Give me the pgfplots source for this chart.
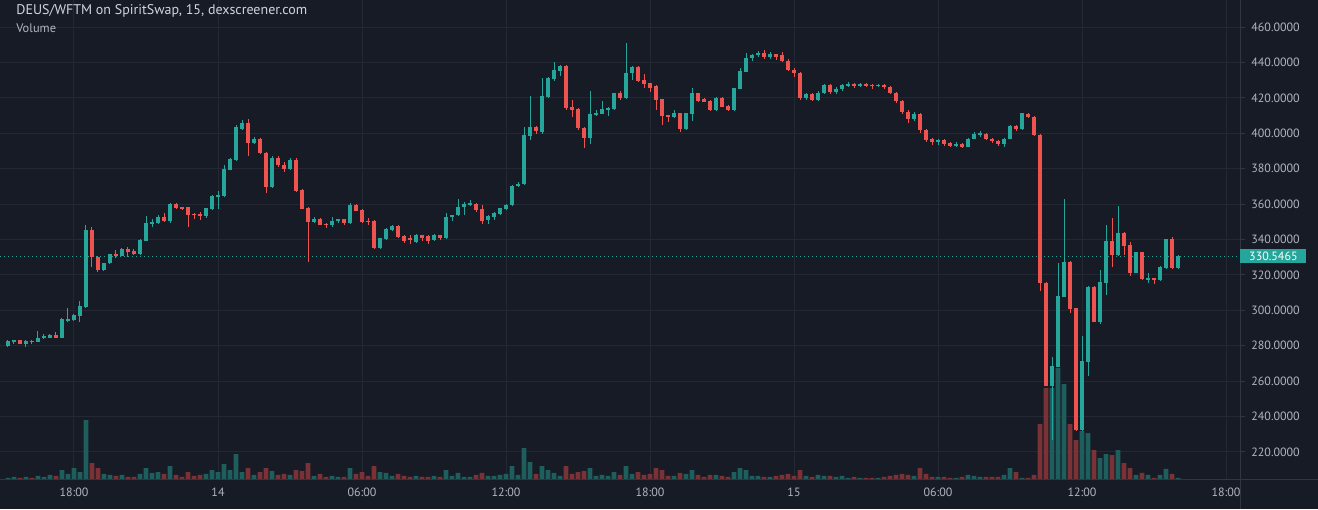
\documentclass[border=0pt]{standalone}
\usepackage{fontspec}
\setmainfont{PT Sans}
\usepackage{pgfplots}
\usepackage{pgfplotstable}
\pgfplotsset{compat=1.18}
\definecolor{bgcol}{RGB}{23,27,38}
\definecolor{gridcol}{RGB}{36,40,52}
\definecolor{sepcol}{RGB}{50,54,66}
\definecolor{txtcol}{RGB}{178,181,190}
\definecolor{titlecol}{RGB}{209,212,220}
\definecolor{upcol}{RGB}{38,166,154}
\definecolor{dncol}{RGB}{239,83,80}
\definecolor{volup}{RGB}{30,94,93}
\definecolor{voldn}{RGB}{122,50,54}

\pgfplotstableread{
i o h l c v
-11 280.0 283.0 279.5 282.7 2
-10 282.3 283.3 280.8 283.0 3
-9 283.0 283.3 280.8 281.2 2
-8 281.2 283.0 279.5 282.7 3
-7 282.7 283.0 280.8 282.3 2
-6 282.3 288.3 282.0 284.6 4
-5 284.2 286.8 284.0 285.3 3
-4 284.6 286.5 284.3 286.1 5
-3 286.1 287.6 284.3 284.6 4
-2 284.6 295.5 284.3 295.1 10
-1 294.3 301.1 293.2 295.1 6
0 294.7 298.0 294.0 297.4 12
1 297.0 305.3 293.6 302.6 8
2 302.0 348.2 301.5 345.4 60
3 345.4 347.1 324.6 330.3 17
4 330.3 330.8 321.4 322.8 12
5 322.8 327.0 322.0 326.5 6
6 326.5 332.0 326.0 331.6 5
7 332.0 334.1 329.4 330.9 4
8 330.9 335.0 330.5 334.4 5
9 334.6 335.5 330.3 332.7 3
10 333.7 334.5 331.0 331.8 3
11 331.8 340.0 331.5 339.7 6
12 339.3 353.3 339.0 349.5 12
13 348.8 351.8 347.2 350.1 7
14 349.5 353.8 349.0 352.9 8
15 352.9 354.8 350.0 350.6 6
16 350.4 360.4 349.5 360.0 14
17 360.0 360.4 357.0 357.8 5
18 358.2 358.5 356.6 357.8 3
19 358.2 358.5 346.9 353.8 8
20 354.4 355.0 351.4 354.0 4
21 354.4 355.7 351.0 353.3 5
22 353.3 358.0 351.9 357.6 6
23 357.0 365.0 356.6 364.6 10
24 364.2 367.6 357.0 365.3 8
25 364.6 382.1 364.0 380.0 16
26 379.2 386.0 379.0 385.6 10
27 384.9 404.7 384.5 403.3 26
28 402.6 407.5 402.0 405.6 8
29 405.6 407.9 387.2 394.7 12
30 394.7 397.7 394.0 397.0 5
31 396.5 397.5 388.0 389.0 8
32 389.0 389.5 366.1 369.8 12
33 369.8 387.0 369.0 386.0 9
34 386.0 387.0 381.0 382.0 5
35 382.0 384.0 378.0 380.0 6
36 380.0 386.0 379.0 385.0 5
37 385.0 386.0 367.0 367.6 10
38 367.9 368.5 357.0 357.4 9
39 357.8 358.2 327.5 349.9 17
40 349.9 352.9 349.5 351.8 4
41 351.8 352.0 348.0 348.4 6
42 348.9 349.5 346.3 348.4 3
43 348.0 352.5 347.2 350.6 4
44 350.3 351.8 349.5 351.4 3
45 351.4 351.8 348.0 349.1 3
46 349.5 360.4 349.0 359.5 12
47 359.5 360.0 356.0 356.3 6
48 356.7 357.0 349.1 349.9 8
49 350.6 352.0 348.2 349.9 4
50 350.6 351.0 334.5 335.0 14
51 335.0 341.0 334.5 340.6 8
52 340.1 346.5 339.5 345.7 7
53 345.4 348.0 345.0 347.6 4
54 347.6 348.0 341.0 341.6 6
55 342.0 342.3 337.9 339.3 4
56 340.8 342.5 337.3 340.0 3
57 338.8 343.0 337.8 342.5 4
58 342.5 342.8 339.3 340.6 3
59 342.0 342.3 337.4 339.3 3
60 339.7 343.0 339.3 342.5 4
61 342.5 342.8 339.7 340.6 3
62 340.6 354.8 340.3 352.9 10
63 352.5 354.0 350.6 353.8 4
64 353.8 362.7 353.3 358.5 7
65 358.5 361.4 353.8 359.9 3
66 359.5 362.3 359.0 360.4 3
67 359.9 360.4 355.7 356.7 5
68 357.0 359.5 348.8 350.6 7
69 351.0 353.8 349.0 353.3 4
70 352.9 355.5 351.0 355.1 4
71 354.4 358.0 354.0 357.6 5
72 357.2 360.0 356.8 359.7 6
73 359.3 371.0 359.0 370.4 14
74 370.2 372.5 369.8 371.5 5
75 371.5 403.7 371.0 399.0 32
76 398.6 421.2 396.2 403.5 18
77 403.5 404.0 399.6 401.3 6
78 400.9 431.0 399.6 421.2 14
79 420.6 432.0 420.0 431.0 10
80 430.6 440.4 429.5 435.7 7
81 435.3 438.3 432.5 438.0 4
82 438.0 438.3 413.1 414.4 14
83 414.6 418.8 409.4 413.1 6
84 413.7 414.0 402.0 402.8 8
85 403.2 403.5 391.9 397.5 9
86 397.5 423.9 393.8 410.7 12
87 410.3 412.9 410.0 411.4 4
88 411.1 418.2 410.7 413.7 5
89 413.3 414.8 409.9 414.4 4
90 413.7 423.0 413.0 422.7 8
91 422.7 423.9 419.0 420.1 5
92 420.1 450.8 419.5 433.8 14
93 433.8 438.0 430.1 437.6 6
94 437.6 438.0 429.0 429.5 8
95 430.1 433.3 425.4 427.6 5
96 428.2 428.5 423.5 425.7 6
97 426.9 427.0 413.1 418.8 12
98 419.3 419.5 404.7 409.9 10
99 410.3 410.5 406.2 409.4 4
100 409.0 413.1 408.5 411.2 4
101 411.2 411.5 400.9 402.4 7
102 402.4 411.5 402.0 411.2 6
103 410.9 425.4 406.9 422.5 10
104 422.5 423.0 417.8 418.2 5
105 419.1 420.1 417.5 417.8 3
106 418.4 418.6 412.8 413.1 5
107 413.1 420.4 412.8 420.1 5
108 420.1 420.4 414.8 415.0 4
109 415.6 415.8 412.8 413.1 3
110 413.1 425.6 412.8 425.4 8
111 425.0 437.0 424.8 435.1 12
112 434.8 445.1 434.5 442.7 10
113 442.7 444.5 440.8 444.2 4
114 444.0 446.5 443.0 445.5 4
115 445.5 447.0 442.0 443.0 3
116 443.0 446.0 442.0 444.5 3
117 444.5 445.0 441.5 443.0 4
118 444.0 446.0 440.0 441.0 5
119 441.0 442.0 435.0 436.0 6
120 436.0 437.0 432.0 434.0 4
121 434.0 434.5 419.0 420.0 10
122 420.0 423.0 418.5 422.0 4
123 422.0 423.0 418.0 419.0 3
124 419.0 424.0 418.0 423.0 5
125 423.0 428.0 422.0 427.0 4
126 427.0 428.0 422.0 423.5 4
127 423.5 426.0 422.0 425.0 3
128 425.0 428.0 424.0 427.5 4
129 427.0 429.0 426.0 428.0 2
130 428.0 428.5 425.5 426.5 3
131 426.5 428.5 426.0 428.0 2
132 428.0 428.5 426.0 427.0 2
133 427.5 428.0 425.0 426.5 2
134 426.5 428.0 426.0 427.5 2
135 427.5 428.0 425.0 426.0 3
136 426.0 426.5 422.0 423.0 4
137 423.0 423.5 417.0 418.0 5
138 418.0 418.5 411.0 412.0 6
139 412.0 413.0 406.0 408.0 5
140 408.0 412.0 407.0 411.0 4
141 411.0 411.5 400.0 402.0 12
142 402.0 402.5 395.0 396.0 6
143 396.5 397.5 393.5 395.0 3
144 395.0 397.0 393.5 396.0 3
145 396.0 396.5 393.0 394.0 3
146 394.5 395.0 392.0 393.0 2
147 393.0 395.0 392.0 394.0 2
148 394.0 394.5 391.5 392.5 3
149 392.5 397.5 392.0 397.0 5
150 397.0 400.5 396.5 399.5 4
151 399.0 401.0 398.0 400.0 3
152 399.5 400.0 396.0 397.0 3
153 397.0 397.5 394.5 395.5 3
154 395.5 396.0 393.0 394.0 3
155 394.0 397.5 392.5 397.0 5
156 397.0 404.5 396.5 404.0 12
157 404.0 404.5 401.5 402.2 8
158 402.2 411.5 402.0 411.2 2
159 410.9 411.6 408.8 409.0 2
160 409.4 409.6 398.5 398.8 5
161 399.2 399.5 311.1 315.2 56
162 315.6 316.0 257.0 257.3 92
163 257.3 273.5 226.8 268.6 92
164 268.2 326.5 267.8 308.1 112
165 307.7 362.7 307.3 327.3 96
166 327.3 327.6 298.3 300.6 56
167 301.1 301.5 232.0 232.4 40
168 232.4 285.5 232.0 271.4 49
169 271.0 313.7 262.9 313.4 47
170 313.4 313.7 293.3 293.6 30
171 293.6 322.8 292.3 316.2 22
172 315.6 348.2 308.6 339.3 26
173 339.3 352.0 324.7 331.2 25
174 331.2 358.9 330.9 343.9 30
175 343.9 344.2 331.2 336.3 17
176 336.9 338.8 319.4 320.9 12
177 321.3 333.2 321.0 332.9 5
178 332.9 333.2 317.2 317.5 7
179 317.4 321.3 315.6 318.0 5
180 318.1 318.4 314.9 317.1 2
181 317.1 325.0 316.8 324.7 5
182 323.7 340.4 323.4 340.1 11
183 340.1 341.2 323.4 323.7 6
184 323.7 331.0 323.4 330.5465 2
}\candles

\begin{document}
\begin{tikzpicture}
\fill[bgcol] (0,0) rectangle (659pt,254.5pt);
\begin{axis}[
  at={(0pt,14.5pt)}, anchor=south west,
  width=620pt, height=240pt, scale only axis,
  xmin=-12.333, xmax=194.333, ymin=204.18, ymax=475.25,
  axis line style={draw=none},
  xtick={0,24,...,192},
  xticklabels={18:00,14,06:00,12:00,18:00,15,06:00,12:00,18:00},
  ytick={220,240,...,460},
  ytick pos=right, yticklabel pos=right,
  xtick pos=bottom,
  grid=major, grid style={gridcol, line width=0.5pt},
  tick align=outside, major tick length=2.5pt,
  xtick style={draw=none}, ytick style={draw=sepcol, line width=0.5pt},
  /pgf/number format/assume math mode=true,
  /pgf/number format/fixed,
  /pgf/number format/fixed zerofill,
  /pgf/number format/precision=4,
  /pgf/number format/1000 sep={},
  ticklabel style={font=\fontsize{6}{7}\selectfont, text=txtcol},
  yticklabel style={anchor=west, inner sep=0pt, xshift=3pt},
  xticklabel style={anchor=north, inner sep=0pt, yshift=-1.2pt},
]
% volume
\addplot[ybar, bar width=2.4pt, bar shift=0pt, fill=volup, draw=none,
  restrict expr to domain={\thisrow{c}-\thisrow{o}}{0:1000}]
  table[x=i, y expr={204.18+\thisrow{v}/1.7708}] {\candles};
\addplot[ybar, bar width=2.4pt, bar shift=0pt, fill=voldn, draw=none,
  restrict expr to domain={\thisrow{c}-\thisrow{o}}{-1000:-0.00001}]
  table[x=i, y expr={204.18+\thisrow{v}/1.7708}] {\candles};
% last price line
\addplot[upcol, line width=0.5pt, dash pattern=on 0.5pt off 1.5pt] coordinates {(-12.333,330.5465) (194.333,330.5465)};
% wicks
\addplot[draw=none, mark=none,
  restrict expr to domain={\thisrow{c}-\thisrow{o}}{0:1000},
  error bars/.cd, y dir=both, y explicit, error mark=none,
  error bar style={draw=upcol, line width=0.5pt}]
  table[x=i, y expr={(\thisrow{o}+\thisrow{c})/2},
    y error plus expr={\thisrow{h}-(\thisrow{o}+\thisrow{c})/2},
    y error minus expr={(\thisrow{o}+\thisrow{c})/2-\thisrow{l}}] {\candles};
\addplot[draw=none, mark=none,
  restrict expr to domain={\thisrow{c}-\thisrow{o}}{-1000:-0.00001},
  error bars/.cd, y dir=both, y explicit, error mark=none,
  error bar style={draw=dncol, line width=0.5pt}]
  table[x=i, y expr={(\thisrow{o}+\thisrow{c})/2},
    y error plus expr={\thisrow{h}-(\thisrow{o}+\thisrow{c})/2},
    y error minus expr={(\thisrow{o}+\thisrow{c})/2-\thisrow{l}}] {\candles};
% bodies
\addplot[draw=none, mark=none,
  restrict expr to domain={\thisrow{c}-\thisrow{o}}{0:1000},
  error bars/.cd, y dir=both, y explicit, error mark=none,
  error bar style={draw=upcol, line width=2.4pt}]
  table[x=i, y expr={(\thisrow{o}+\thisrow{c})/2},
    y error expr={max(abs(\thisrow{c}-\thisrow{o})/2,0.3)}] {\candles};
\addplot[draw=none, mark=none,
  restrict expr to domain={\thisrow{c}-\thisrow{o}}{-1000:-0.00001},
  error bars/.cd, y dir=both, y explicit, error mark=none,
  error bar style={draw=dncol, line width=2.4pt}]
  table[x=i, y expr={(\thisrow{o}+\thisrow{c})/2},
    y error expr={max(abs(\thisrow{c}-\thisrow{o})/2,0.3)}] {\candles};
\coordinate (lastp) at (axis cs:194.333,330.5465);
\end{axis}
\draw[sepcol, line width=0.5pt] (0,14.5pt) -- (659pt,14.5pt);
\draw[sepcol, line width=0.5pt] (620pt,0) -- (620pt,254.5pt);
\node[fill=upcol, text=white, anchor=west, inner sep=0pt, minimum width=33pt, minimum height=7pt,
  font=\fontsize{6}{7}\selectfont] at (lastp) {330.5465};
\node[anchor=west, inner sep=0pt, text=titlecol, font=\fontsize{7}{8}\selectfont] at (8pt,249pt) {DEUS/WFTM on SpiritSwap, 15, dexscreener.com};
\node[anchor=west, inner sep=0pt, text=txtcol, font=\fontsize{6.2}{7}\selectfont] at (8pt,240.5pt) {Volume};
\pgfresetboundingbox
\useasboundingbox (0,0) rectangle (659pt,254.5pt);
\end{tikzpicture}
\end{document}
